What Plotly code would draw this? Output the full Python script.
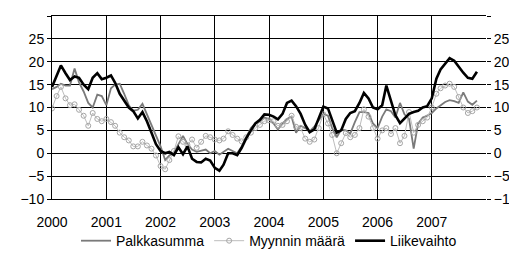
import pandas as pd
import plotly.graph_objects as go

months = pd.date_range("2000-01-01", periods=95, freq="MS")

palkkasumma = [
    14, 14.5, 15.2, 14.8, 14.8, 18.5, 15.5, 13.5, 11, 10, 12.8, 12.5,
    10.5, 14.2, 15, 15.2, 13, 10.5, 9.3, 9.5, 10.8, 8.5, 6.5, 4,
    1.5, -1.5, -0.5, 0.2, 2, 3.8, 2, 0.8, 0.3, 0.5, 0.8, 0,
    0.5, -0.3, 0.3, 1, 0.5, 0, 1.5, 3.5, 5.5, 6.5, 7, 7.8,
    7.5, 6.5, 5.2, 6.5, 7.5, 8, 4.5, 6, 5.5, 4.8, 5.8, 7.2,
    8.6, 8.2, 5.5, 3.5, 5.2, 5, 4.3, 6.8, 9, 9, 8.8, 6.5,
    5.5, 8, 9.6, 9.2, 7.8, 11, 8.5, 7.5, 1, 6.5, 7.8, 8.2,
    8.8, 9.8, 10.5, 11.2, 11.6, 11.4, 11, 13.3, 11.3, 10.6, 11.5,
]

myynnin_maara = [
    9.8, 12.5, 14.5, 12, 10.5, 10.7, 9.5, 8.2, 6, 8.8, 7.5, 7,
    7.5, 6.8, 6, 4.5, 3.5, 2.8, 1.5, 1.5, 2.5, 1.7, 1, -0.5,
    -2.8, -3.5, -1.5, 0.5, 3.7, 2.5, 1.8, 3, 1.2, 2.5, 3.8, 3.5,
    3, 2.8, 3.2, 4.8, 4, 3.2, 2.6, 3.5, 4.5, 5.5, 6.2, 7,
    7.2, 7, 6, 6.2, 7, 8.2, 5.8, 5.5, 3.2, 2.5, 3, 5.5,
    8.5, 6.5, 4, 0, 2.2, 4.4, 3.5, 4, 5.5, 9.6, 8, 5.5,
    3.2, 5, 5.5, 4.2, 5.5, 2.2, 3.8, 9, 4.5, 6.2, 7, 7.8,
    10, 13, 14.2, 14.8, 15.2, 14.5, 12.3, 10, 8.8, 9.2, 10,
]

liikevaihto = [
    14.5, 17, 19.2, 17.5, 16, 16.8, 16.5, 15, 14, 16.5, 17.5, 16.2,
    16.5, 17, 15.4, 13, 11.4, 10, 9.2, 7.6, 9, 7, 4.5, 2,
    0.5, 0, 0.3, -0.4, 1.3, -0.2, 1.5, -1.2, -1.9, -2, -1.2, -1.6,
    -3.2, -3.8, -2.5, 0, 0, -0.4, 1.2, 3.3, 5, 6.5, 7.3, 8.5,
    8.4, 8, 7.4, 8.6, 11, 11.5, 10.3, 8.6, 6.2, 4.6, 5.2, 7.5,
    10.2, 9.8, 7.5, 4.5, 5, 7.5, 8.8, 9.2, 11, 13.2, 12, 10,
    9.6, 10.5, 14.8, 11.2, 8.3, 6.6, 7.5, 8.6, 9, 9.3, 10, 10.3,
    12, 16.3, 18.3, 19.5, 20.8, 20.2, 18.8, 17.6, 16.5, 16.3, 17.8,
]

year_ticks = [str(y) for y in range(2000, 2008)]
y_ticks = list(range(-10, 31, 5))

font = dict(family="Liberation Sans, Arial, sans-serif", size=14, color="black")

fig = go.Figure()
fig.add_trace(go.Scatter(
    x=months, y=palkkasumma, name="Palkkasumma", mode="lines",
    line=dict(color="#7a7a7a", width=1.8),
))
fig.add_trace(go.Scatter(
    x=months, y=myynnin_maara, name="Myynnin määrä", mode="lines+markers",
    line=dict(color="#bdbdbd", width=1),
    marker=dict(symbol="circle-open", size=5, color="#a5a5a5", line=dict(width=1)),
))
fig.add_trace(go.Scatter(
    x=months, y=liikevaihto, name="Liikevaihto", mode="lines",
    line=dict(color="black", width=2.6),
))
# invisible trace to activate right axis
fig.add_trace(go.Scatter(
    x=[months[0]], y=[0], yaxis="y2", mode="markers",
    marker=dict(opacity=0), showlegend=False, hoverinfo="skip",
))

fig.update_layout(
    width=517, height=256,
    margin=dict(l=44, r=35, t=7, b=57),
    paper_bgcolor="white", plot_bgcolor="white",
    font=font,
    showlegend=True,
    legend=dict(
        orientation="h", x=0.5, xanchor="center", y=-0.23, yanchor="middle",
        font=font, itemwidth=30, tracegroupgap=0, bgcolor="rgba(0,0,0,0)",
    ),
    xaxis=dict(
        range=["2000-01-01", "2008-01-01"],
        tickvals=[f"{y}-01-01" for y in year_ticks],
        ticktext=year_ticks,
        showgrid=True, gridcolor="black", gridwidth=1,
        showline=True, linecolor="black", linewidth=1, mirror=True,
        ticks="", ticklabelstandoff=10,
        zeroline=False,
    ),
    yaxis=dict(
        range=[-10, 30], tickvals=y_ticks,
        showgrid=True, gridcolor="black", gridwidth=1,
        showline=True, linecolor="black", linewidth=1,
        ticks="outside", ticklen=4, tickcolor="black",
        zeroline=False,
    ),
    yaxis2=dict(
        range=[-10, 30], tickvals=y_ticks, overlaying="y", side="right",
        showgrid=False, showline=False, zeroline=False,
        ticks="outside", ticklen=4, tickcolor="black",
    ),
)

fig.write_html("out.html")
